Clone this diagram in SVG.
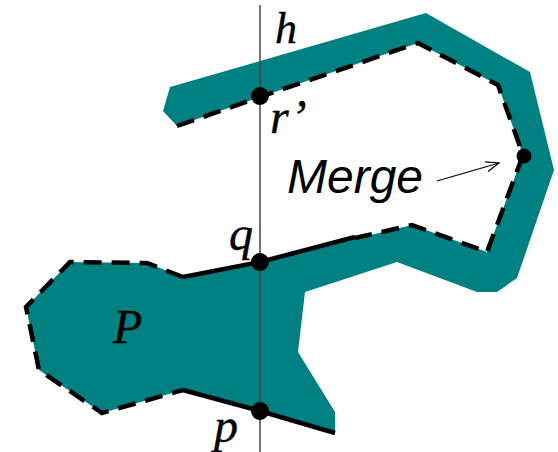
<svg xmlns="http://www.w3.org/2000/svg" width="558" height="452" viewBox="0 0 558 452">
<style>
.region{fill:#008080;stroke:none}
.dash{fill:none;stroke:#000;stroke-width:4.5;stroke-dasharray:18 10}
.solid{fill:none;stroke:#000;stroke-width:4.5}
.hline{stroke:#444;stroke-width:1.5}
.dot{fill:#000}
.lbl{font-family:"Liberation Serif","Times New Roman",serif;font-style:italic;fill:#000;stroke:#000;stroke-width:0.4}
.sans{font-family:"Liberation Sans",Arial,sans-serif;font-style:italic;fill:#000}
.arrow{fill:none;stroke:#000;stroke-width:1.2}
</style>
<defs>
<marker id="open" markerWidth="14" markerHeight="12" refX="13" refY="6" orient="auto" markerUnits="userSpaceOnUse">
<path d="M0,1 L13,6 L0,11" fill="none" stroke="#000" stroke-width="1.2"/>
</marker>
</defs>
<g id="region-P">
<path class="region" d="M170,87 L426,13 L530,72 L554,170 L517,278 L497,292 L477,292 L397,262 L305,292 L298,352 L335,412 L335,433 L260,411 L183,390 L102,413 L39,370 L26,307 L70,262 L147,263 L183,277 L260,262 L412,225 L487,252 L523,155 L498,85 L418,43 L260,97 L177,126 L163,111 Z"/>
</g>
<g id="line-h">
<line class="hline" x1="260" y1="5" x2="260" y2="452"/>
</g>
<g id="connectors">
<path class="dash" d="M177,126 L260,97 L418,43 L498,85 L523,155 L487,252 L412,225 L355,238"/>
<path class="solid" d="M355,237 L260,262 L183,277"/>
<path class="dash" d="M183,277 L147,263 L70,262 L26,307 L39,370 L102,413 L183,390"/>
<path class="solid" d="M183,390 L260,411 L335,433"/>
<line class="arrow" x1="437" y1="181" x2="499" y2="163" marker-end="url(#open)"/>
</g>
<g id="point-r">
<circle class="dot" cx="260" cy="96" r="9"/>
<text class="lbl" x="270" y="133" font-size="48">r’</text>
</g>
<g id="point-q">
<circle class="dot" cx="260" cy="262" r="9"/>
<text class="lbl" x="229" y="250" font-size="48">q</text>
</g>
<g id="point-p">
<circle class="dot" cx="260" cy="411" r="9"/>
<text class="lbl" x="214" y="442" font-size="48">p</text>
</g>
<g id="point-merge">
<circle class="dot" cx="524" cy="156" r="7.5"/>
<text class="sans" x="287" y="193" font-size="48">Merge</text>
</g>
<g id="label-h">
<text class="lbl" x="275" y="43" font-size="44">h</text>
</g>
<g id="label-P">
<text class="lbl" x="113" y="343" font-size="48">P</text>
</g>
</svg>
